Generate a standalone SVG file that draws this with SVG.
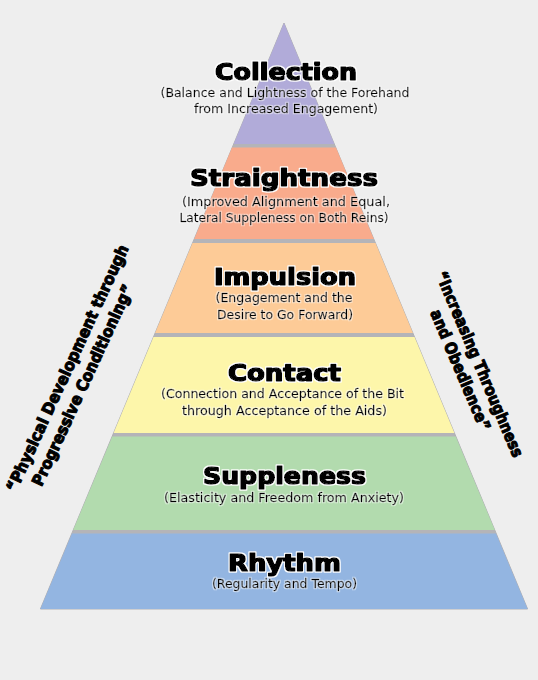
<svg xmlns="http://www.w3.org/2000/svg" width="538" height="680" viewBox="0 0 538 680">
<defs>
<filter id="halo" x="-10%" y="-30%" width="120%" height="160%">
<feMorphology in="SourceAlpha" operator="dilate" radius="1" result="d"/>
<feFlood flood-color="#ffffff"/>
<feComposite in2="d" operator="in" result="w"/>
<feMerge><feMergeNode in="w"/><feMergeNode in="SourceGraphic"/></feMerge>
</filter>
<filter id="halo2" x="-5%" y="-30%" width="110%" height="160%">
<feMorphology in="SourceAlpha" operator="dilate" radius="0.7" result="d"/>
<feFlood flood-color="#ffffff" flood-opacity="0.5"/>
<feComposite in2="d" operator="in" result="w"/>
<feMerge><feMergeNode in="w"/><feMergeNode in="SourceGraphic"/></feMerge>
</filter>
</defs>
<style>
.bg{fill:#eeeeee}
.t{font-family:"DejaVu Sans",sans-serif;font-weight:bold;font-size:23px;fill:#000;stroke:#000;stroke-width:1.6px;stroke-linejoin:round;text-anchor:middle;filter:url(#halo)}
.s{font-family:"DejaVu Sans",sans-serif;font-size:12px;fill:#000;stroke:#000;stroke-width:0.3px;text-anchor:middle;filter:url(#halo2)}
.side{font-family:"DejaVu Sans",sans-serif;font-weight:bold;font-size:16px;fill:#000;stroke:#000;stroke-width:1.1px;stroke-linejoin:round;text-anchor:middle}
.edge{fill:#b4b4b8;stroke:#b0b0b4;stroke-width:1}
</style>
<rect class="bg" x="0" y="0" width="538" height="680"/>
<polygon class="edge" points="284,23 527.6,609 40.4,609"/>
<g id="collection">
<polygon fill="#b1abd9" points="284,23 334.3,144 233.7,144"/>
<text class="t" x="286" y="80" textLength="142" lengthAdjust="spacingAndGlyphs">Collection</text>
<text class="s" x="285" y="97" textLength="249" lengthAdjust="spacingAndGlyphs">(Balance and Lightness of the Forehand</text>
<text class="s" x="286" y="113" textLength="184" lengthAdjust="spacingAndGlyphs">from Increased Engagement)</text>
</g>
<g id="straightness">
<polygon fill="#f9ab8c" points="232,147.5 336,147.5 373.8,239 194.2,239"/>
<text class="t" x="284" y="186" textLength="188" lengthAdjust="spacingAndGlyphs">Straightness</text>
<text class="s" x="286" y="206" textLength="208" lengthAdjust="spacingAndGlyphs">(Improved Alignment and Equal,</text>
<text class="s" x="284" y="222" textLength="209" lengthAdjust="spacingAndGlyphs">Lateral Suppleness on Both Reins)</text>
</g>
<g id="impulsion">
<polygon fill="#fdcb97" points="192.5,243 375.5,243 412.9,333 155.1,333"/>
<text class="t" x="285" y="285" textLength="142" lengthAdjust="spacingAndGlyphs">Impulsion</text>
<text class="s" x="284" y="302" textLength="137" lengthAdjust="spacingAndGlyphs">(Engagement and the</text>
<text class="s" x="285" y="319" textLength="136" lengthAdjust="spacingAndGlyphs">Desire to Go Forward)</text>
</g>
<g id="contact">
<polygon fill="#fdf6aa" points="153.5,337 414.5,337 454.4,433 113.6,433"/>
<text class="t" x="284.5" y="381" textLength="113" lengthAdjust="spacingAndGlyphs">Contact</text>
<text class="s" x="282.5" y="398" textLength="243" lengthAdjust="spacingAndGlyphs">(Connection and Acceptance of the Bit</text>
<text class="s" x="284.5" y="415" textLength="205" lengthAdjust="spacingAndGlyphs">through Acceptance of the Aids)</text>
</g>
<g id="suppleness">
<polygon fill="#b2dbae" points="112.3,436.5 455.7,436.5 494.8,530 73.2,530"/>
<text class="t" x="284.5" y="484" textLength="163" lengthAdjust="spacingAndGlyphs">Suppleness</text>
<text class="s" x="284" y="502" textLength="240" lengthAdjust="spacingAndGlyphs">(Elasticity and Freedom from Anxiety)</text>
</g>
<g id="rhythm">
<polygon fill="#93b5e1" points="72,533.5 496,533.5 527.6,609 40.4,609"/>
<text class="t" x="284.5" y="571" textLength="113" lengthAdjust="spacingAndGlyphs">Rhythm</text>
<text class="s" x="284.5" y="588" textLength="145" lengthAdjust="spacingAndGlyphs">(Regularity and Tempo)</text>
</g>
<g id="left-label" transform="translate(67,368) rotate(-65.2)">
<text class="side" x="0" y="6" textLength="270" lengthAdjust="spacingAndGlyphs">“Physical Development through</text>
<text class="side" x="-9" y="27" textLength="220" lengthAdjust="spacingAndGlyphs">Progressive Conditioning”</text>
</g>
<g id="right-label" transform="translate(480,364) rotate(67)">
<text class="side" x="0" y="6" textLength="200" lengthAdjust="spacingAndGlyphs">“Increasing Throughness</text>
<text class="side" x="-2" y="26" textLength="130" lengthAdjust="spacingAndGlyphs">and Obedience”</text>
</g>
<g id="connectors"/>
</svg>
